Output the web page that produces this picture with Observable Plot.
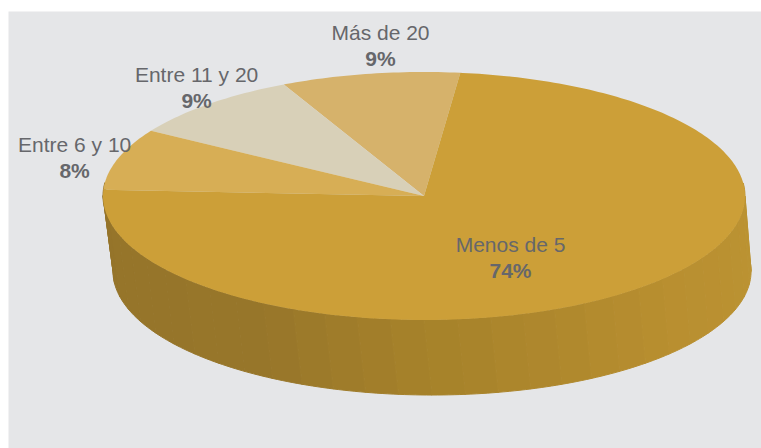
<!DOCTYPE html>
<html><head><meta charset="utf-8">
<style>html,body{margin:0;padding:0;background:#fff}svg{display:block}</style>
<script src="https://cdn.jsdelivr.net/npm/d3@7"></script>
<script src="https://cdn.jsdelivr.net/npm/@observablehq/plot@0.6"></script>
</head><body><div id="chart"></div>
<script>
const names = ["Más de 20", "Entre 11 y 20", "Entre 6 y 10", "Menos de 5"];
const shares = [9, 9, 8, 74];
const colors = ["#d6b26b", "#d8d0b8", "#d7ae55", "#cc9f38"];
const labelX = [-0.137, -0.71, -1.09, 0.268];
const labelY = [1.21, 0.87, 0.306, -0.5];
const startAngle = 83.5, stepDeg = 1;
const wallDrop = 0.605, wallShift = 0.025, wallScale = 0.994, wallStrip = 6;
const wallStops = [180, 240, 270, 320, 360];
const wallColors = ["#95742a", "#97762a", "#a6822a", "#b98f30", "#bb9333"];

const rad = d => d * Math.PI / 180;
let a = startAngle;
const slicePts = [];
names.forEach((name, i) => {
  const end = a + shares[i] * 3.6;
  for (let t = a; ; t += stepDeg) {
    const u = Math.min(t, end);
    slicePts.push({name, fill: colors[i], x1: 0, y1: 0, x2: Math.cos(rad(u)), y2: Math.sin(rad(u))});
    if (u >= end) break;
  }
  a = end;
});

const ramp = d3.scaleLinear().domain(wallStops).range(wallColors).interpolate(d3.interpolateRgb);
const wallPts = [];
for (let s = 174; s < 366; s += wallStrip) {
  const fill = ramp(Math.max(180, Math.min(360, s + wallStrip / 2)));
  for (let t = s; t <= s + wallStrip; t += 1) {
    const c = Math.cos(rad(t)), n = Math.sin(rad(t));
    wallPts.push({strip: s, fill, x1: c, y1: n, x2: wallShift + wallScale * c, y2: n - wallDrop});
  }
}
const labels = names.map((name, i) => ({name, pct: shares[i] + "%", x: labelX[i], y: labelY[i]}));
const font = {fontFamily: "'Liberation Sans', Arial, sans-serif", fontSize: 21, fill: "#66676b", stroke: null};

const plot = Plot.plot({
  width: 761, height: 448,
  marginLeft: 8, marginTop: 11, marginRight: 0, marginBottom: 0,
  style: {background: "#fff"},
  x: {axis: null, domain: [-1, 1], range: [103, 745]},
  y: {axis: null, domain: [-1, 1], range: [320, 72]},
  color: {type: "identity"},
  marks: [
    Plot.frame({fill: "#e5e6e8", stroke: "none"}),
    Plot.area(wallPts, {x1: "x1", y1: "y1", x2: "x2", y2: "y2", z: "strip", fill: "fill", stroke: "fill", strokeWidth: 1}),
    Plot.area(slicePts, {x1: "x1", y1: "y1", x2: "x2", y2: "y2", z: "name", fill: "fill"}),
    Plot.text(labels, {x: "x", y: "y", text: "name", dy: -13, ...font}),
    Plot.text(labels, {x: "x", y: "y", text: "pct", dy: 13, fontWeight: "bold", ...font})
  ]
});
document.getElementById("chart").append(plot);
</script></body></html>
